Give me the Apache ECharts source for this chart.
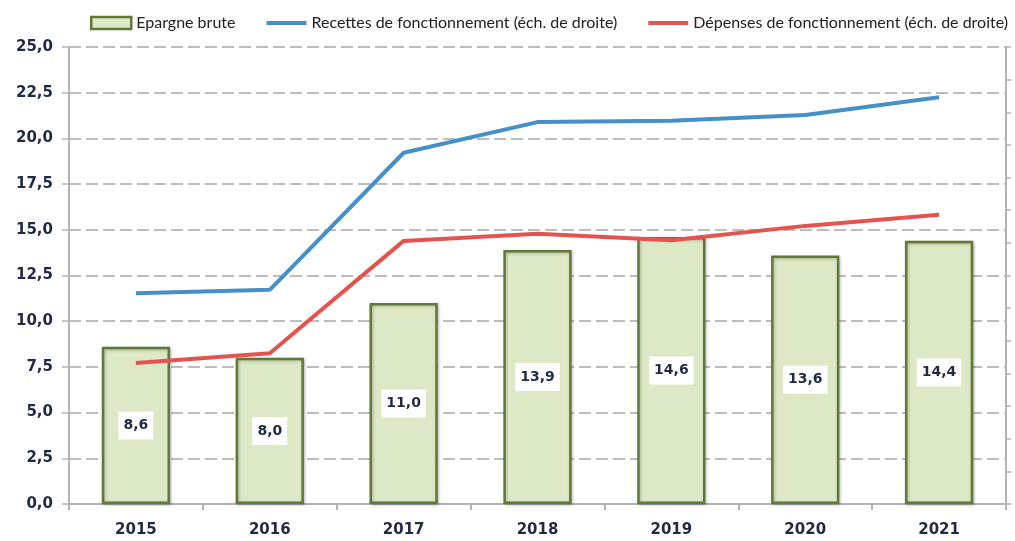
<!DOCTYPE html>
<html>
<head>
<meta charset="utf-8">
<script src="https://cdn.jsdelivr.net/npm/echarts@6/dist/echarts.min.js"></script>
<style>
  html, body { margin: 0; padding: 0; background: #fff; }
  #chart { width: 1015px; height: 541px; }
</style>
</head>
<body>
<div id="chart"></div>
<script>
// données
var years = ['2015', '2016', '2017', '2018', '2019', '2020', '2021']
var epargneBrute = [8.6, 8.0, 11.0, 13.9, 14.6, 13.6, 14.4]
// échelle de droite (sans étiquettes sur l'original)
var recettes = [32.3, 32.8, 53.8, 58.5, 58.7, 59.6, 62.3]
var depenses = [21.6, 23.1, 40.3, 41.4, 40.4, 42.6, 44.3]

var fmt = function (v) { return Number(v).toFixed(1).replace('.', ',') }
var legendFont = 'Lato, "Open Sans", sans-serif'
var numFont = '"DejaVu Sans", sans-serif'
var lineIcon = 'path://M0,0 L40,0 L40,4 L0,4 Z'

var chart = echarts.init(document.getElementById('chart'))
var option = {
  animation: false,
  legend: {
    top: 10,
    left: 85,
    itemGap: 31,
    itemWidth: 40,
    itemHeight: 12,
    textStyle: { fontSize: 16, color: '#222', fontFamily: legendFont },
    data: [
      { name: 'Epargne brute', icon: 'rect', itemStyle: { color: '#dde8c6', borderColor: '#5f7a36', borderWidth: 2.5 } },
      { name: 'Recettes de fonctionnement (éch. de droite)', icon: lineIcon },
      { name: 'Dépenses de fonctionnement (éch. de droite)', icon: lineIcon }
    ]
  },
  grid: { left: 69, right: 9, top: 47, bottom: 37 },
  xAxis: {
    type: 'category',
    data: years,
    axisLine: { lineStyle: { color: '#b3b3b3', width: 2 } },
    axisTick: { show: true, length: 6, lineStyle: { color: '#b3b3b3', width: 2 } },
    axisLabel: { fontSize: 15, fontWeight: 'bold', color: '#1f2a44', fontFamily: numFont, margin: 19 }
  },
  yAxis: [
    {
      type: 'value',
      min: 0,
      max: 25,
      interval: 2.5,
      axisLine: { show: true, lineStyle: { color: '#b3b3b3', width: 2 } },
      axisTick: { show: true, length: 7, lineStyle: { color: '#b3b3b3', width: 1.5 } },
      axisLabel: { fontSize: 15, fontWeight: 'bold', color: '#1f2a44', fontFamily: numFont, margin: 16, formatter: fmt },
      splitLine: { lineStyle: { color: '#a8a8a8', width: 1.5, type: [12, 5] } }
    },
    {
      type: 'value',
      min: 0,
      max: 70,
      interval: 5,
      position: 'right',
      axisLine: { show: true, lineStyle: { color: '#b3b3b3', width: 2 } },
      axisTick: { show: true, length: 5, lineStyle: { color: '#b3b3b3', width: 1.5 } },
      axisLabel: { show: false },
      splitLine: { show: false }
    }
  ],
  series: [
    {
      name: 'Epargne brute',
      type: 'bar',
      data: epargneBrute,
      barWidth: '51%',
      itemStyle: {
        color: '#dde8c6',
        borderColor: '#5f7a36',
        borderWidth: 2.5,
        shadowColor: 'rgba(0,0,0,0.25)',
        shadowBlur: 3,
        shadowOffsetX: 1,
        shadowOffsetY: 1
      },
      label: {
        show: true,
        position: 'inside',
        formatter: function (p) { return fmt(p.value) },
        backgroundColor: '#fff',
        padding: [8, 5, 6, 5],
        fontSize: 14,
        fontWeight: 'bold',
        fontFamily: numFont,
        color: '#1f2a44'
      },
      z: 2
    },
    {
      name: 'Recettes de fonctionnement (éch. de droite)',
      type: 'line',
      yAxisIndex: 1,
      data: recettes,
      symbol: 'none',
      color: '#4590c9',
      lineStyle: { color: '#4590c9', width: 4 },
      z: 3
    },
    {
      name: 'Dépenses de fonctionnement (éch. de droite)',
      type: 'line',
      yAxisIndex: 1,
      data: depenses,
      symbol: 'none',
      color: '#e5534e',
      lineStyle: { color: '#e5534e', width: 4 },
      z: 3
    }
  ]
}
chart.setOption(option)
</script>
</body>
</html>
